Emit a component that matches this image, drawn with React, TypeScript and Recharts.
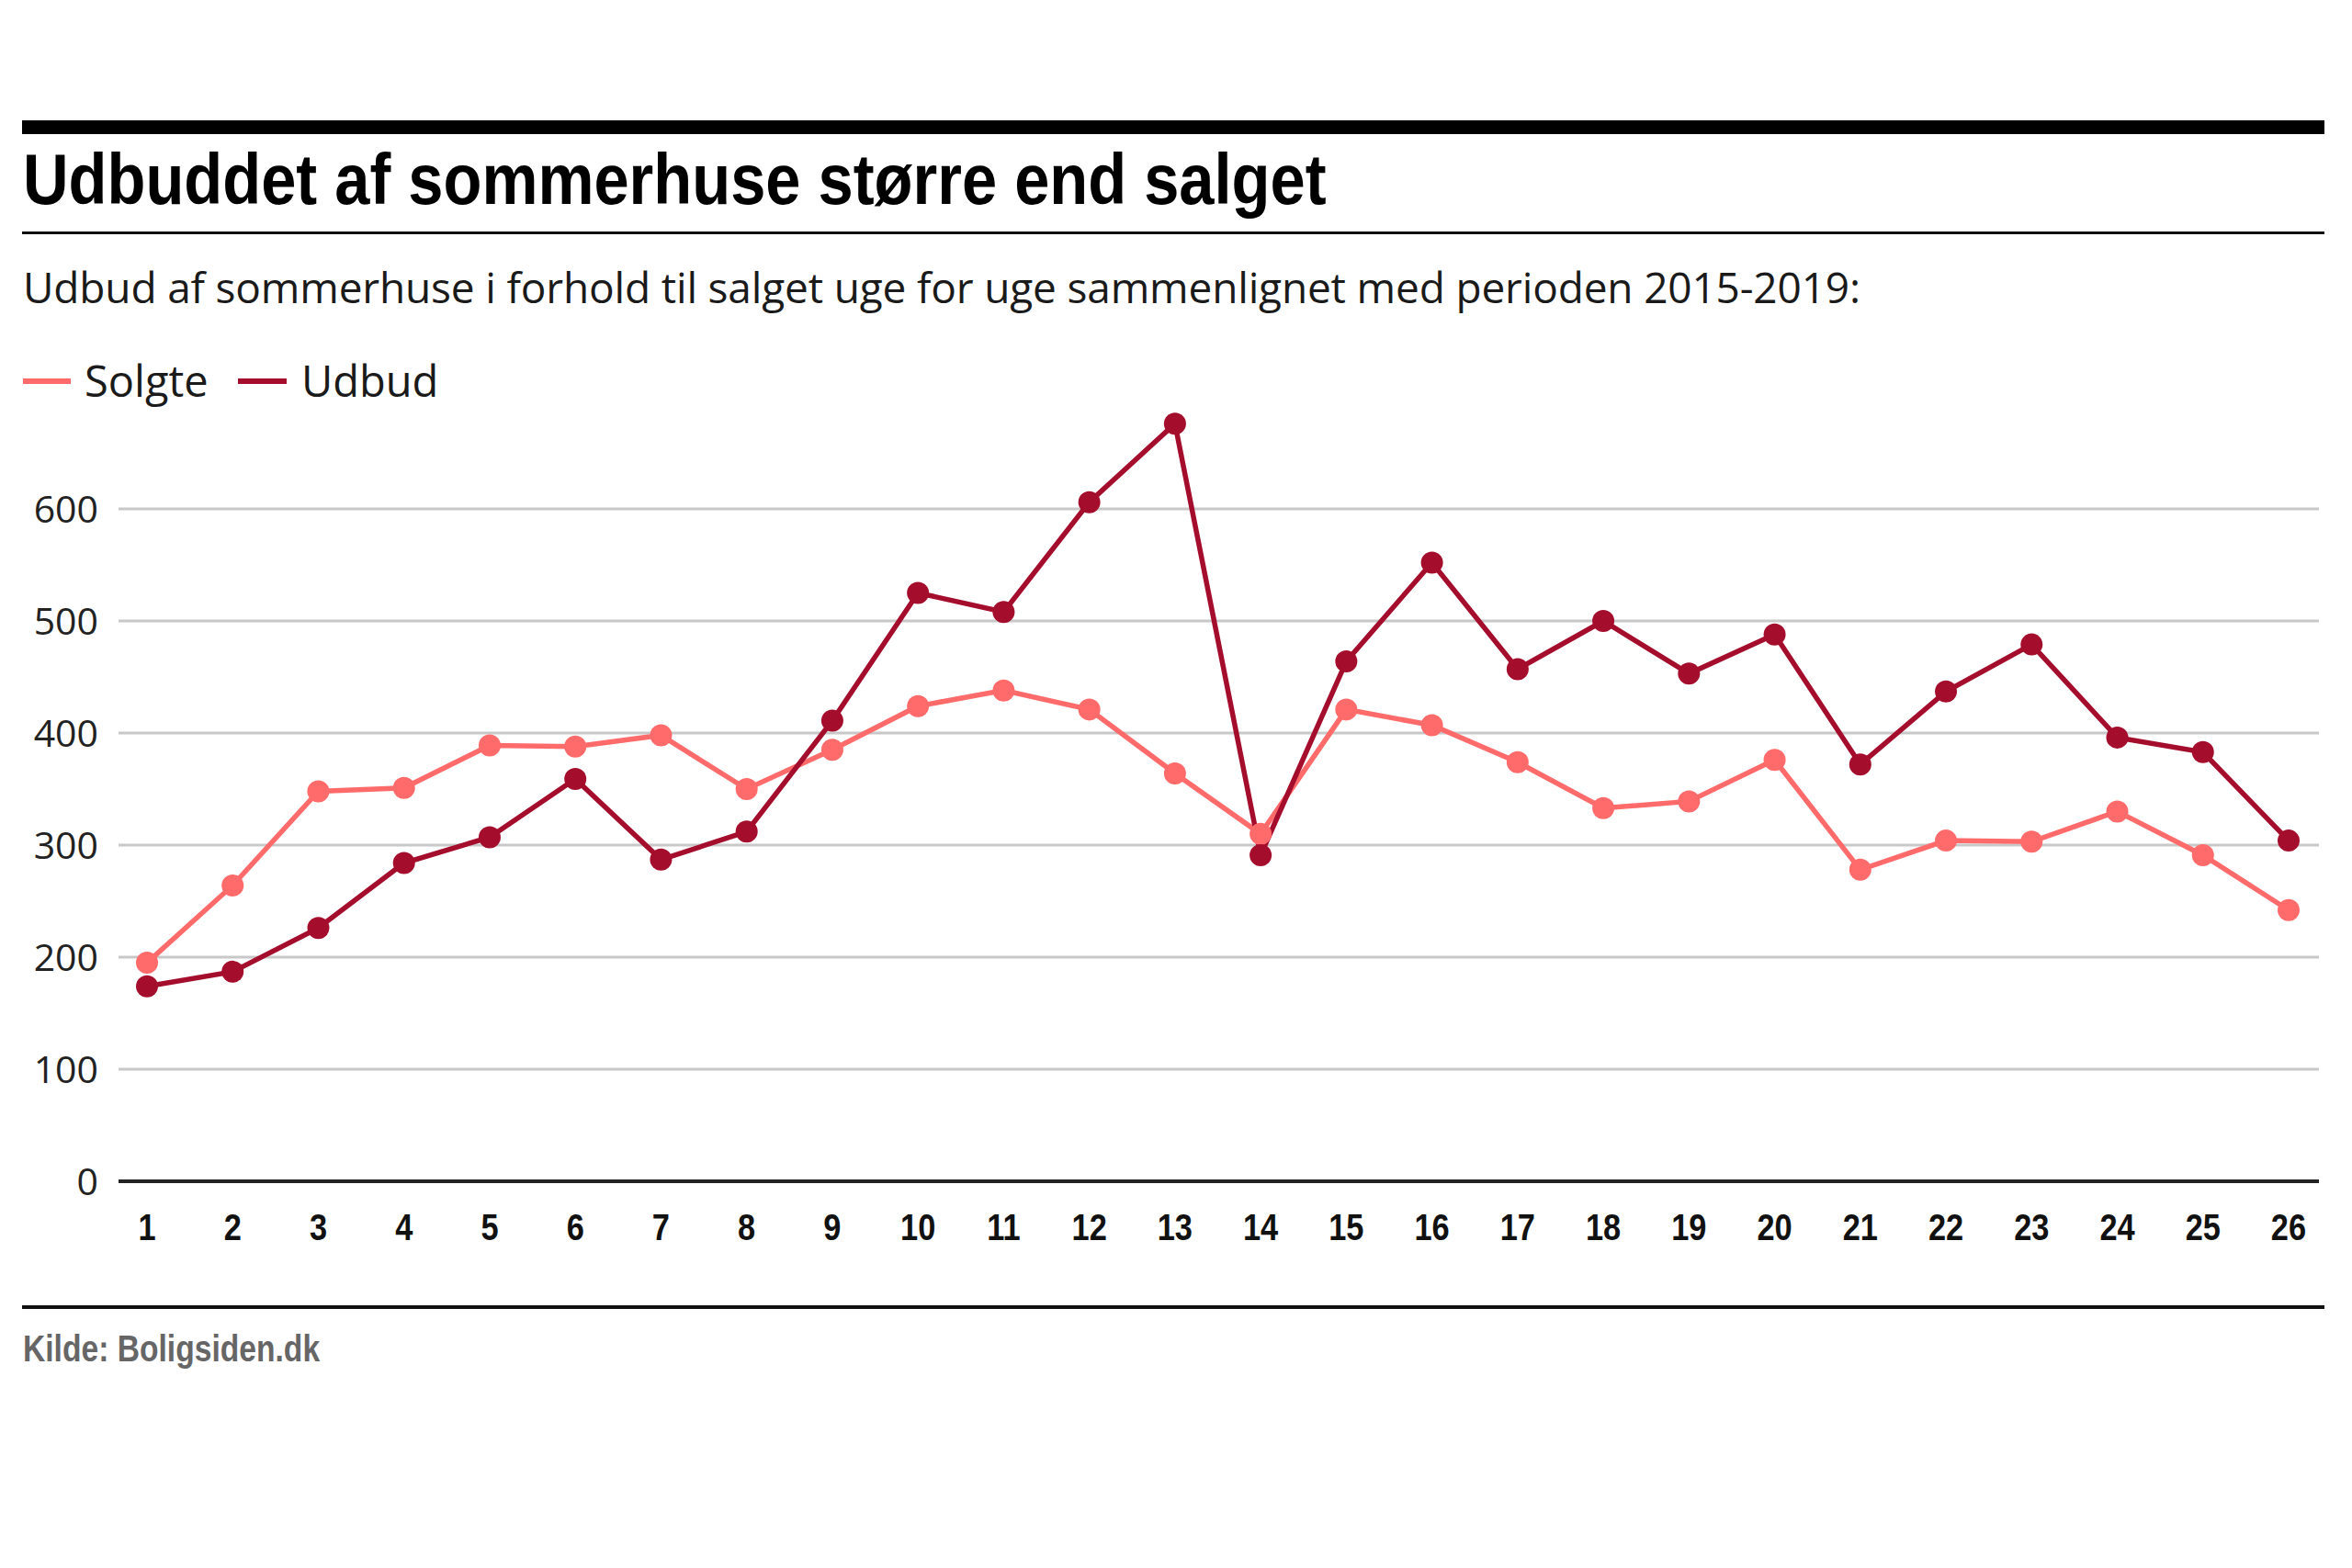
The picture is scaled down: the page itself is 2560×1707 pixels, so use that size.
import React from 'react';
import { LineChart, Line, XAxis, YAxis, CartesianGrid } from 'recharts';

const weeks: number[] = [1, 2, 3, 4, 5, 6, 7, 8, 9, 10, 11, 12, 13, 14, 15, 16, 17, 18, 19, 20, 21, 22, 23, 24, 25, 26];
const solgte: number[] = [195, 264, 348, 351, 389, 388, 398, 350, 385, 424, 438, 421, 364, 310, 421, 407, 374, 333, 339, 376, 278, 304, 303, 330, 291, 242];
const udbud: number[] = [174, 187, 226, 284, 307, 359, 287, 312, 411, 525, 508, 606, 676, 291, 464, 552, 457, 500, 453, 488, 372, 437, 479, 396, 383, 304];
const yTicks: number[] = [0, 100, 200, 300, 400, 500, 600];

const SERIES = [
  { key: 'Solgte', color: '#ff6b6b' },
  { key: 'Udbud', color: '#a50d2d' },
];

const TITLE = 'Udbuddet af sommerhuse større end salget';
const SUBTITLE = 'Udbud af sommerhuse i forhold til salget uge for uge sammenlignet med perioden 2015-2019:';
const SOURCE = 'Kilde: Boligsiden.dk';

const data = weeks.map((w, i) => ({ week: w, Solgte: solgte[i], Udbud: udbud[i] }));

const BOLD = '"Liberation Sans", Arial, sans-serif';
const SANS = '"Open Sans", "Noto Sans", sans-serif';

const XTick = (props: any) => {
  const { x, y, payload } = props;
  return (
    <g transform={`translate(${x},${y})`}>
      <text
        transform="scale(0.86,1)"
        x={0}
        y={0}
        dy="0.71em"
        textAnchor="middle"
        fontFamily={BOLD}
        fontWeight={700}
        fontSize={40}
        fill="#111111"
      >
        {payload.value}
      </text>
    </g>
  );
};

export default function App() {
  return (
    <div style={{ position: 'absolute', left: 0, top: 0, width: 2560, height: 1707, background: '#ffffff', overflow: 'hidden' }}>
      <div style={{ position: 'absolute', left: 0, top: 0 }}>
        <LineChart width={2560} height={1400} data={data} margin={{ top: 432, right: 36, bottom: 34, left: 0 }}>
          <CartesianGrid horizontal={true} vertical={false} stroke="#c8c8c8" strokeWidth={3} horizontalValues={yTicks} />
          <XAxis
            dataKey="week"
            type="number"
            domain={[1, 26]}
            ticks={weeks}
            interval={0}
            padding={{ left: 31, right: 33 }}
            height={80}
            tickLine={false}
            tickSize={0}
            tickMargin={36}
            axisLine={{ stroke: '#222222', strokeWidth: 4 }}
            tick={<XTick />}
          />
          <YAxis
            type="number"
            domain={[0, 700]}
            ticks={yTicks}
            interval={0}
            width={129}
            axisLine={false}
            tickLine={false}
            tickSize={0}
            tickMargin={22}
            tick={{ fontFamily: SANS, fontSize: 41, fill: '#222222' }}
          />
          {SERIES.map((s) => (
            <Line
              key={s.key}
              type="linear"
              dataKey={s.key}
              stroke={s.color}
              strokeWidth={5.5}
              dot={{ r: 12, fill: s.color, stroke: 'none', strokeWidth: 0 }}
              activeDot={false}
              isAnimationActive={false}
            />
          ))}
        </LineChart>
      </div>
      <svg width={2560} height={1707} style={{ position: 'absolute', left: 0, top: 0, pointerEvents: 'none' }}>
        <rect x={24} y={131} width={2506} height={15} fill="#000000" />
        <text transform="translate(25,222) scale(0.88,1)" x={0} y={0} fontFamily={BOLD} fontWeight={700} fontSize={78} fill="#000000">
          {TITLE}
        </text>
        <rect x={24} y={252} width={2506} height={3} fill="#111111" />
        <text x={25} y={330} fontFamily={SANS} fontSize={46} fill="#1a1a1a" textLength={2000} lengthAdjust="spacing">
          {SUBTITLE}
        </text>
        <line x1={25} x2={77} y1={415} y2={415} stroke={SERIES[0].color} strokeWidth={6} />
        <text x={92} y={432} fontFamily={SANS} fontSize={47} fill="#1a1a1a">{SERIES[0].key}</text>
        <line x1={259} x2={312} y1={415} y2={415} stroke={SERIES[1].color} strokeWidth={6} />
        <text x={328} y={432} fontFamily={SANS} fontSize={47} fill="#1a1a1a">{SERIES[1].key}</text>
        <rect x={24} y={1421} width={2506} height={4} fill="#111111" />
        <text transform="translate(25,1482) scale(0.82,1)" x={0} y={0} fontFamily={BOLD} fontWeight={700} fontSize={41} fill="#666666">
          {SOURCE}
        </text>
      </svg>
    </div>
  );
}
